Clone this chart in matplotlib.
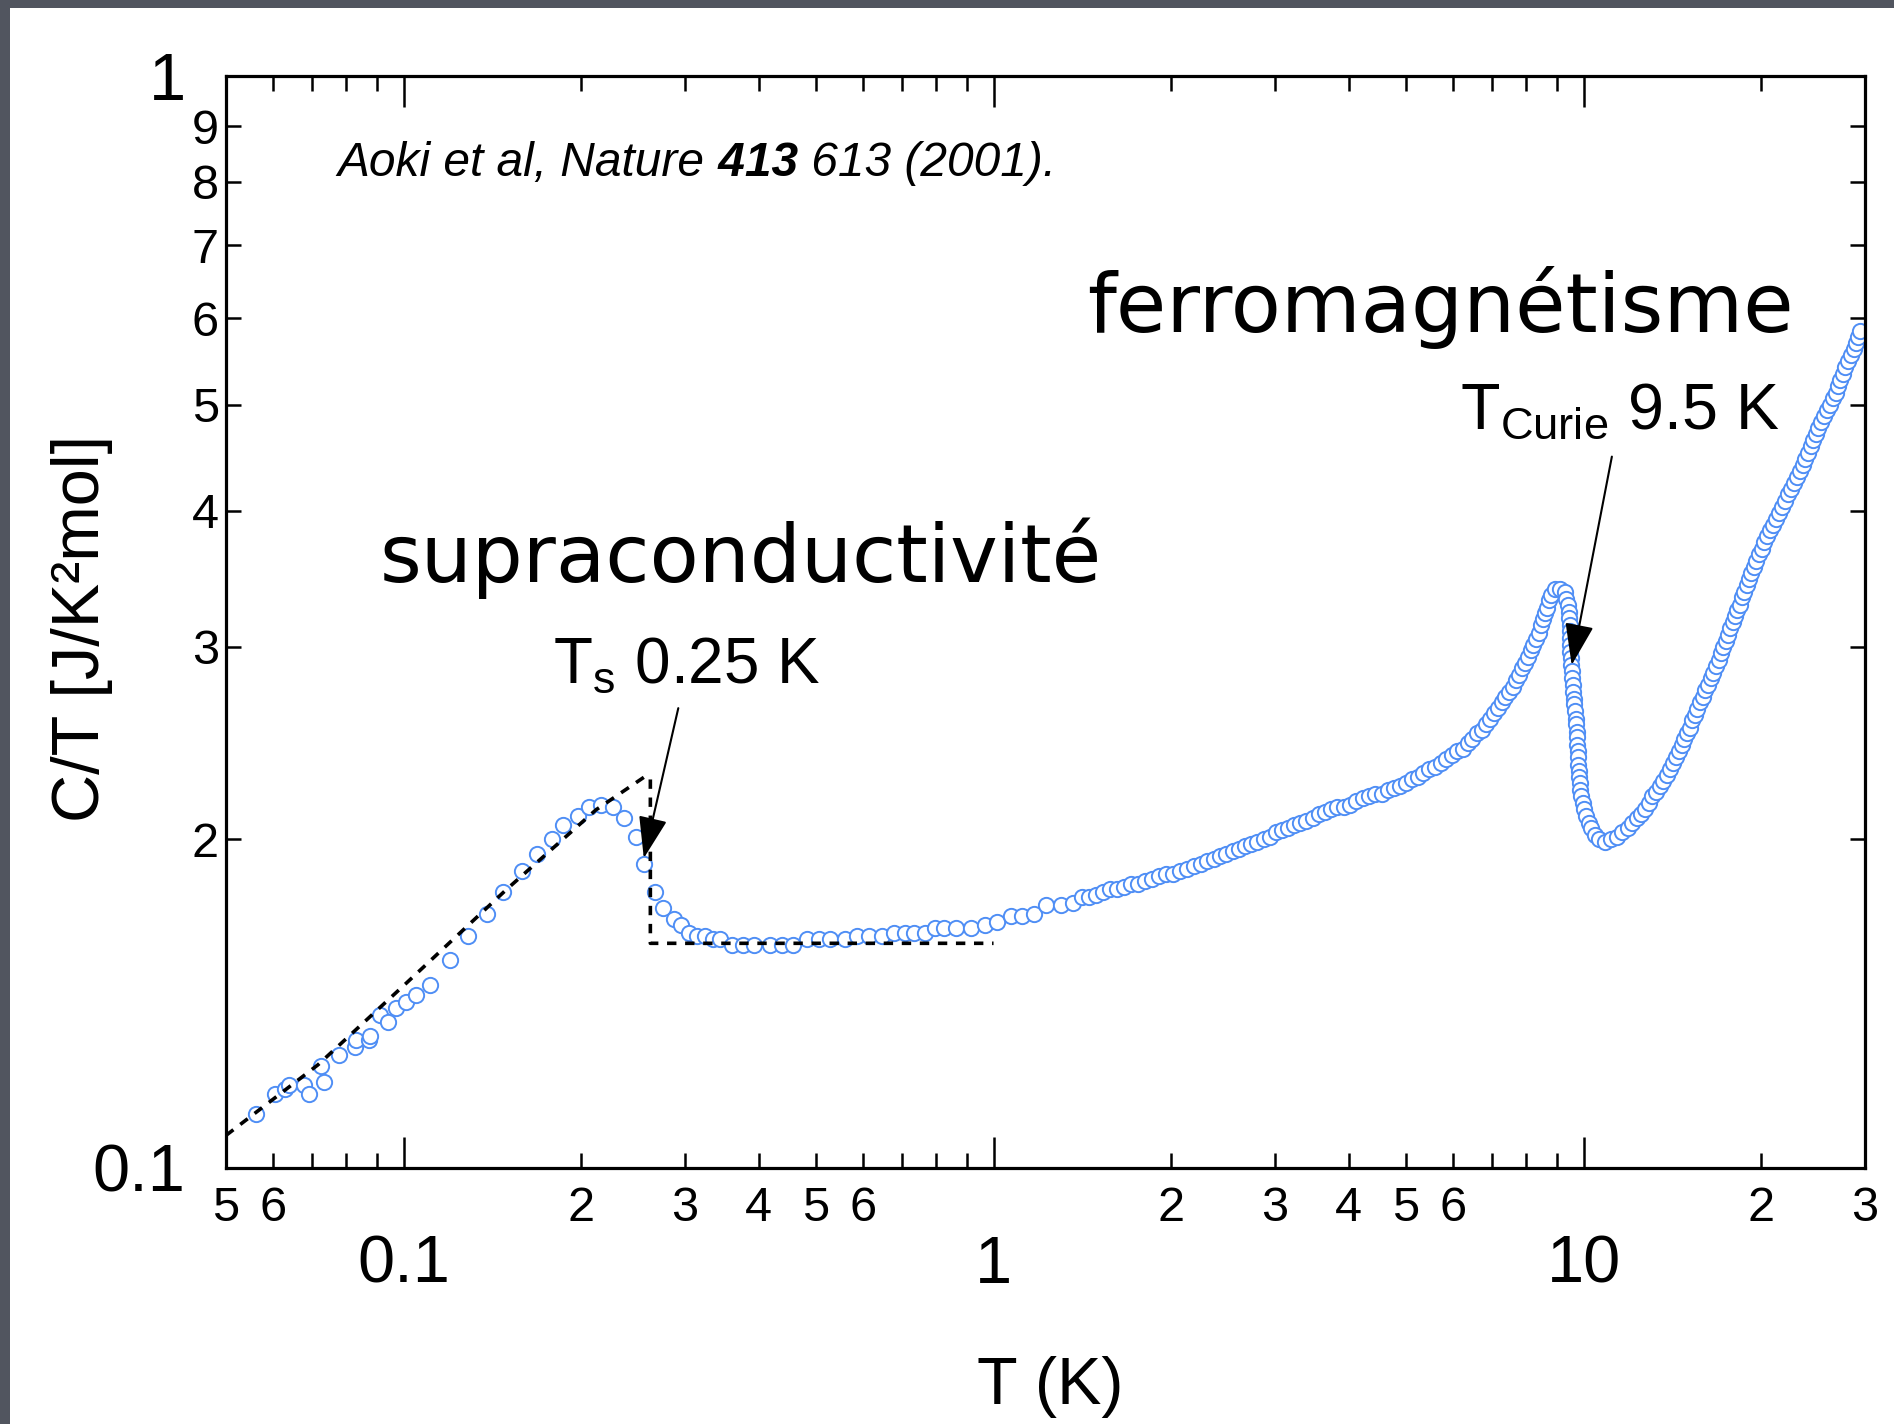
import matplotlib.pyplot as plt
from matplotlib.patches import Rectangle

plt.rcParams['font.family'] = 'Liberation Sans'

# specific heat of URhGe: T in K, C/T in J/K^2 mol
T_K = [
    0.05617, 0.06047, 0.06304, 0.064, 0.06792, 0.06902, 0.07236, 0.07322, 0.07767, 0.08259,
    0.08298, 0.08741, 0.08782, 0.0912, 0.09418, 0.09725, 0.101, 0.1049, 0.111, 0.1197,
    0.1287, 0.1387, 0.1473, 0.1585, 0.1682, 0.1787, 0.1866, 0.1975, 0.2065, 0.2165,
    0.2266, 0.2368, 0.2479, 0.2554, 0.2672, 0.2754, 0.2871, 0.2956, 0.3047, 0.3139,
    0.3245, 0.3343, 0.3439, 0.3605, 0.3758, 0.3932, 0.4185, 0.4375, 0.4565, 0.4827,
    0.5051, 0.5288, 0.5607, 0.587, 0.6142, 0.6473, 0.6773, 0.709, 0.7325, 0.7665,
    0.7971, 0.8236, 0.8622, 0.9142, 0.9657, 1.012, 1.069, 1.119, 1.171, 1.225,
    1.3, 1.361, 1.414, 1.453, 1.493, 1.534, 1.577, 1.621, 1.666, 1.712,
    1.76, 1.808, 1.858, 1.909, 1.962, 2.016, 2.072, 2.127, 2.184, 2.243,
    2.303, 2.365, 2.423, 2.482, 2.542, 2.604, 2.668, 2.734, 2.801, 2.869,
    2.939, 3.011, 3.083, 3.157, 3.232, 3.31, 3.39, 3.473, 3.558, 3.645,
    3.733, 3.827, 3.924, 4.022, 4.12, 4.221, 4.326, 4.435, 4.546, 4.657,
    4.771, 4.886, 5.001, 5.118, 5.236, 5.354, 5.474, 5.598, 5.724, 5.854,
    5.981, 6.11, 6.241, 6.364, 6.482, 6.602, 6.723, 6.833, 6.945, 7.058,
    7.163, 7.267, 7.373, 7.479, 7.579, 7.68, 7.778, 7.869, 7.961, 8.054,
    8.138, 8.222, 8.307, 8.39, 8.459, 8.528, 8.598, 8.662, 8.727, 8.813,
    8.943, 9.112, 9.303, 9.357, 9.41, 9.438, 9.459, 9.48, 9.488, 9.493,
    9.497, 9.504, 9.511, 9.519, 9.542, 9.57, 9.59, 9.606, 9.627, 9.651,
    9.675, 9.7, 9.725, 9.742, 9.755, 9.767, 9.777, 9.786, 9.796, 9.812,
    9.834, 9.856, 9.882, 9.912, 9.962, 10.03, 10.1, 10.2, 10.3, 10.44,
    10.61, 10.87, 11.14, 11.4, 11.64, 11.89, 12.1, 12.31, 12.52, 12.71,
    12.89, 13.08, 13.27, 13.46, 13.66, 13.86, 14.04, 14.2, 14.37, 14.53,
    14.68, 14.83, 14.98, 15.14, 15.29, 15.45, 15.6, 15.76, 15.93, 16.09,
    16.26, 16.43, 16.59, 16.77, 16.94, 17.09, 17.25, 17.41, 17.57, 17.73,
    17.89, 18.06, 18.22, 18.39, 18.56, 18.72, 18.89, 19.07, 19.25, 19.43,
    19.62, 19.81, 20.03, 20.26, 20.49, 20.72, 20.96, 21.2, 21.45, 21.7,
    21.95, 22.2, 22.46, 22.72, 22.99, 23.26, 23.52, 23.76, 24.01, 24.26,
    24.51, 24.76, 25.01, 25.27, 25.55, 25.85, 26.15, 26.46, 26.76, 27,
    27.25, 27.5, 27.75, 28.07, 28.4, 28.73, 29.01, 29.22, 29.44,
]
C_over_T = [
    0.112, 0.117, 0.118, 0.119, 0.119, 0.117, 0.124, 0.120, 0.127, 0.129,
    0.131, 0.131, 0.132, 0.138, 0.136, 0.140, 0.142, 0.144, 0.147, 0.155,
    0.163, 0.171, 0.179, 0.187, 0.194, 0.200, 0.206, 0.210, 0.214, 0.215,
    0.214, 0.209, 0.201, 0.190, 0.179, 0.173, 0.169, 0.167, 0.164, 0.163,
    0.163, 0.162, 0.162, 0.160, 0.160, 0.160, 0.160, 0.160, 0.160, 0.162,
    0.162, 0.162, 0.162, 0.163, 0.163, 0.163, 0.164, 0.164, 0.164, 0.164,
    0.166, 0.166, 0.166, 0.166, 0.167, 0.168, 0.170, 0.170, 0.171, 0.174,
    0.174, 0.175, 0.177, 0.177, 0.178, 0.179, 0.180, 0.180, 0.181, 0.182,
    0.182, 0.183, 0.184, 0.185, 0.186, 0.186, 0.187, 0.188, 0.189, 0.190,
    0.191, 0.192, 0.193, 0.194, 0.195, 0.196, 0.197, 0.198, 0.199, 0.200,
    0.201, 0.203, 0.204, 0.205, 0.206, 0.207, 0.208, 0.209, 0.211, 0.212,
    0.213, 0.214, 0.214, 0.215, 0.217, 0.218, 0.219, 0.220, 0.220, 0.222,
    0.223, 0.224, 0.225, 0.227, 0.228, 0.230, 0.232, 0.233, 0.235, 0.237,
    0.239, 0.241, 0.242, 0.245, 0.247, 0.250, 0.252, 0.255, 0.258, 0.261,
    0.264, 0.267, 0.270, 0.273, 0.276, 0.280, 0.283, 0.287, 0.290, 0.294,
    0.298, 0.301, 0.305, 0.309, 0.314, 0.318, 0.322, 0.326, 0.331, 0.335,
    0.339, 0.339, 0.337, 0.332, 0.328, 0.323, 0.319, 0.314, 0.310, 0.306,
    0.301, 0.297, 0.293, 0.289, 0.285, 0.281, 0.277, 0.273, 0.269, 0.266,
    0.262, 0.258, 0.255, 0.251, 0.248, 0.244, 0.241, 0.238, 0.234, 0.231,
    0.228, 0.225, 0.222, 0.219, 0.216, 0.213, 0.210, 0.207, 0.205, 0.202,
    0.200, 0.199, 0.200, 0.201, 0.203, 0.205, 0.207, 0.209, 0.211, 0.213,
    0.216, 0.219, 0.221, 0.224, 0.226, 0.229, 0.232, 0.235, 0.238, 0.241,
    0.244, 0.247, 0.250, 0.253, 0.257, 0.260, 0.263, 0.267, 0.270, 0.274,
    0.277, 0.281, 0.284, 0.288, 0.292, 0.296, 0.300, 0.304, 0.308, 0.312,
    0.316, 0.320, 0.324, 0.328, 0.333, 0.337, 0.342, 0.346, 0.351, 0.355,
    0.360, 0.365, 0.369, 0.374, 0.379, 0.384, 0.388, 0.393, 0.398, 0.403,
    0.408, 0.414, 0.419, 0.424, 0.429, 0.435, 0.440, 0.446, 0.452, 0.458,
    0.464, 0.470, 0.476, 0.482, 0.488, 0.494, 0.500, 0.507, 0.513, 0.520,
    0.527, 0.534, 0.541, 0.548, 0.555, 0.562, 0.569, 0.577, 0.584,
]

# dashed idealised superconducting jump
dash_T = [0.05, 0.0716, 0.1010, 0.1491, 0.2119, 0.2554, 0.262, 0.262, 1.0]
dash_CT = [0.1071, 0.1243, 0.1476, 0.1797, 0.2128, 0.2279, 0.2279, 0.1606, 0.1606]

x_major = [0.1, 1, 10]
x_major_labels = ['0.1', '1', '10']
x_minor = [0.05, 0.06, 0.07, 0.08, 0.09, 0.2, 0.3, 0.4, 0.5, 0.6, 0.7, 0.8, 0.9,
           2, 3, 4, 5, 6, 7, 8, 9, 20, 30]
x_minor_labels = ['5', '6', '', '', '', '2', '3', '4', '5', '6', '', '', '',
                  '2', '3', '4', '5', '6', '', '', '', '2', '3']
y_major = [0.1, 1]
y_major_labels = ['0.1', '1']
y_minor = [0.2, 0.3, 0.4, 0.5, 0.6, 0.7, 0.8, 0.9]
y_minor_labels = ['2', '3', '4', '5', '6', '7', '8', '9']

fig = plt.figure(figsize=(18.94, 14.24), dpi=100, facecolor='#51555f')
# white slide area, dark strip left and top
fig.add_artist(Rectangle((10 / 1894, 0), 1, 1 - 8 / 1424, transform=fig.transFigure,
                         facecolor='white', edgecolor='none', zorder=-10))
ax = fig.add_axes([0.1193, 0.1798, 0.8654, 0.7668])
ax.set_xscale('log')
ax.set_yscale('log')

ax.plot(T_K, C_over_T, 'o', ms=11, mfc='white', mec='#4f8ef5', mew=1.4, ls='none', zorder=2)
ax.plot(dash_T, dash_CT, color='black', lw=2.6, dashes=(2.6, 2.4), zorder=3)

ax.set_xlim(0.05, 30)
ax.set_ylim(0.1, 1)
ax.set_xticks(x_major, x_major_labels)
ax.set_xticks(x_minor, x_minor_labels, minor=True)
ax.set_yticks(y_major, y_major_labels)
ax.set_yticks(y_minor, y_minor_labels, minor=True)
ax.tick_params(which='both', direction='in', top=True, right=True, width=1.8)
ax.tick_params(which='major', length=22)
ax.tick_params(which='minor', length=11)
ax.tick_params(axis='x', which='minor', labelsize=35, pad=13)
ax.tick_params(axis='x', which='major', labelsize=48, pad=48)
ax.tick_params(axis='y', which='minor', labelsize=35, pad=5)
ax.tick_params(axis='y', which='major', labelsize=48, pad=29)
for sp in ax.spines.values():
    sp.set_linewidth(2.3)

ax.set_xlabel('T (K)', fontsize=48)
ax.xaxis.set_label_coords(0.503, -0.172)
ax.set_ylabel('C/T [J/K²mol]', fontsize=48)
ax.yaxis.set_label_coords(-0.069, 0.4945)

# reference line, with the volume number in bold
t1 = ax.text(0.0773, 0.8094, 'Aoki et al, Nature', fontsize=34.5, style='italic', va='baseline')
t2 = ax.annotate(' 413', xy=(1, 0), xycoords=t1, fontsize=34.5, style='italic',
                 weight='bold', va='bottom')
ax.annotate(' 613 (2001).', xy=(1, 0), xycoords=t2, fontsize=34.5, style='italic', va='bottom')

ax.text(0.3727, 0.344, 'supraconductivité', fontsize=58, family='DejaVu Sans',
        ha='center', va='baseline')
ax.text(5.728, 0.5828, 'ferromagnétisme', fontsize=59, family='DejaVu Sans',
        ha='center', va='baseline')
ax.text(0.1792, 0.2784, r'T$_\mathregular{s}$ 0.25 K', fontsize=46, va='baseline')
ax.text(6.163, 0.4753, r'T$_\mathregular{Curie}$ 9.5 K', fontsize=46.5, va='baseline')

arrow = dict(arrowstyle='-|>,head_length=1.3,head_width=0.45', color='black', lw=1.5,
             shrinkA=0, shrinkB=0, mutation_scale=20)
ax.annotate('', xy=(0.2554, 0.1922), xytext=(0.2922, 0.2637), arrowprops=arrow, zorder=4)
ax.annotate('', xy=(9.548, 0.2888), xytext=(11.17, 0.4482), arrowprops=arrow, zorder=4)

fig.savefig('out.png', dpi=100, facecolor=fig.get_facecolor())
